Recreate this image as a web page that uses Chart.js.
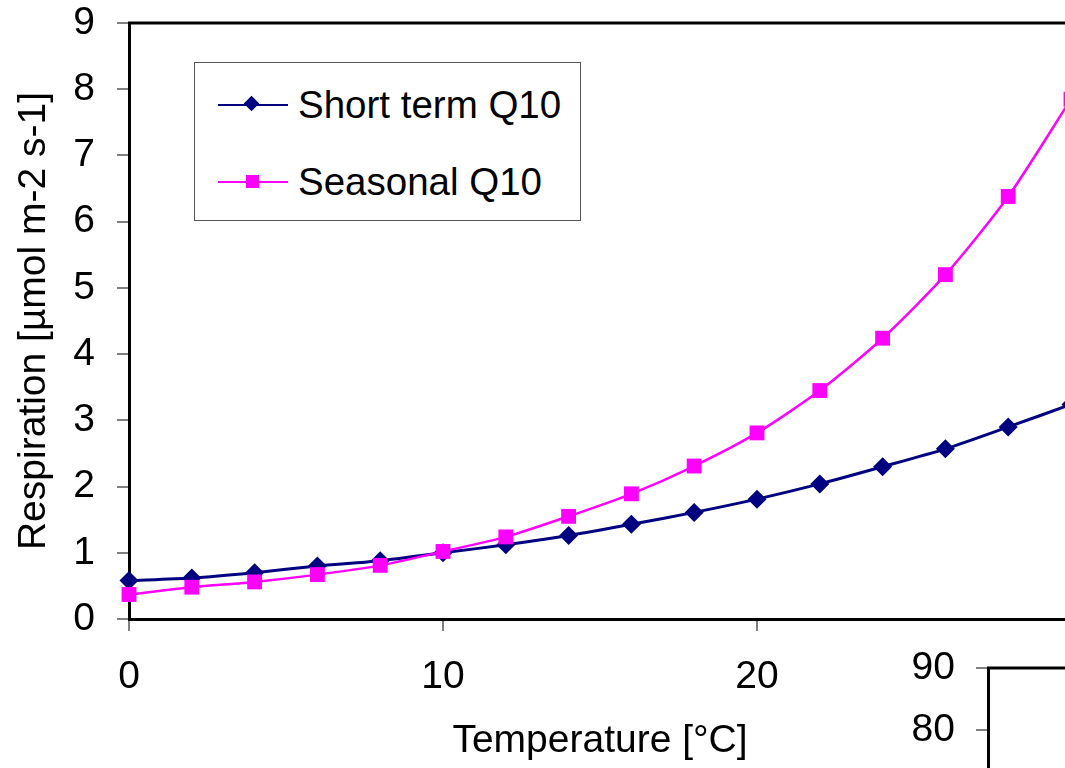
<!DOCTYPE html>
<html>
<head>
<meta charset="utf-8">
<script src="https://cdn.jsdelivr.net/npm/chart.js@4/dist/chart.umd.min.js"></script>
<style>
  body { margin: 0; width: 1065px; height: 768px; overflow: hidden; background: #fff; position: relative; font-family: "Liberation Sans", Arial, sans-serif; }
  #main { position: absolute; left: 0; top: 0; }
  #second { position: absolute; left: 880px; top: 640px; background: #fff; }
  #legend { position: absolute; left: 194px; top: 62px; width: 385px; height: 157px; border: 1px solid #555; background: #fff; }
  .row { position: absolute; left: 0; height: 40px; width: 100%; }
  .row .line { position: absolute; left: 23px; width: 70px; top: 19px; height: 0; border-top: 2px solid; }
  .row .mark { position: absolute; }
  .row .txt { position: absolute; left: 103px; top: 0; font-size: 38.5px; line-height: 40px; color: #000; white-space: nowrap; }
</style>
</head>
<body>
<canvas id="main" width="1100" height="768"></canvas>
<canvas id="second" width="300" height="650"></canvas>
<div id="legend">
  <div class="row" style="top:22px">
    <div class="line" style="border-color:#000080"></div>
    <div class="mark" style="left:51px;top:13px;width:11px;height:11px;background:#000080;transform:rotate(45deg)"></div>
    <div class="txt">Short term Q10</div>
  </div>
  <div class="row" style="top:99px">
    <div class="line" style="border-color:#ff00ff"></div>
    <div class="mark" style="left:51px;top:13px;width:13px;height:13px;background:#ff00ff"></div>
    <div class="txt">Seasonal Q10</div>
  </div>
</div>
<script>
// temperatures in °C
const temps = [0, 2, 4, 6, 8, 10, 12, 14, 16, 18, 20, 22, 24, 26, 28, 30];
const shortTerm = [0.58, 0.62, 0.70, 0.80, 0.88, 1.00, 1.12, 1.26, 1.43, 1.61, 1.81, 2.04, 2.30, 2.57, 2.90, 3.24];
const seasonal = [0.37, 0.48, 0.56, 0.67, 0.81, 1.02, 1.24, 1.55, 1.89, 2.31, 2.81, 3.45, 4.24, 5.20, 6.38, 7.85];
const secondTicks = [0, 10, 20, 30, 40, 50, 60, 70, 80, 90];

const font = { family: '"Liberation Sans", Arial, sans-serif', size: 39 };

// draws the top frame line of the plot area
const topLine = {
  id: 'topLine',
  afterDraw(chart) {
    const a = chart.chartArea, ctx = chart.ctx;
    ctx.save();
    ctx.strokeStyle = '#000';
    ctx.lineWidth = 3;
    ctx.beginPath();
    ctx.moveTo(a.left - 1, a.top);
    ctx.lineTo(a.right + 50, a.top);
    ctx.stroke();
    ctx.restore();
  }
};

// no extra room for labels that stick out past the ends of an axis
function noOverhang(s) {
  s.paddingTop = 0;
  s.paddingBottom = 0;
  s.paddingLeft = 0;
  s.paddingRight = 0;
}

function toPoints(ys) {
  return temps.map((t, i) => ({ x: t, y: ys[i] }));
}

new Chart(document.getElementById('main').getContext('2d'), {
  type: 'line',
  data: {
    datasets: [{
      label: 'Seasonal Q10',
      data: toPoints(seasonal),
      borderColor: '#ff00ff',
      backgroundColor: '#ff00ff',
      borderWidth: 2.5,
      pointStyle: 'rect',
      pointRadius: 10.5,
      pointBorderWidth: 0,
      tension: 0.25,
      clip: false,
      order: 0
    }, {
      label: 'Short term Q10',
      data: toPoints(shortTerm),
      borderColor: '#000080',
      backgroundColor: '#000080',
      borderWidth: 3,
      pointStyle: 'rectRot',
      pointRadius: 9.5,
      pointBorderWidth: 0,
      tension: 0.25,
      clip: false,
      order: 1
    }]
  },
  options: {
    responsive: false,
    animation: false,
    layout: { padding: { top: 23, right: 29, left: 0, bottom: 0 } },
    plugins: { legend: { display: false }, tooltip: { enabled: false } },
    scales: {
      x: {
        type: 'linear',
        min: 0, max: 30,
        ticks: { stepSize: 10, color: '#000', font: font, padding: 23, maxRotation: 0 },
        grid: { drawOnChartArea: false, drawTicks: true, tickLength: 12, color: '#808080', lineWidth: 2 },
        border: { display: true, color: '#000', width: 3 },
        title: { display: true, text: 'Temperature [°C]', color: '#000', font: font, padding: { top: 0, bottom: 3 } },
        afterFit: s => { s.height = 149; noOverhang(s); }
      },
      y: {
        min: 0, max: 9,
        ticks: { stepSize: 1, color: '#000', font: font, padding: 22 },
        grid: { drawOnChartArea: false, drawTicks: true, tickLength: 12, color: '#808080', lineWidth: 2 },
        border: { display: true, color: '#000', width: 3 },
        title: { display: true, text: 'Respiration [µmol m-2 s-1]', color: '#000', font: font, padding: { top: 11, bottom: 0 } },
        afterFit: s => { s.width = 129; noOverhang(s); }
      }
    }
  },
  plugins: [topLine]
});

// the neighbouring chart, only its top-left corner is in view
new Chart(document.getElementById('second').getContext('2d'), {
  type: 'line',
  data: { labels: [], datasets: [] },
  options: {
    responsive: false,
    animation: false,
    layout: { padding: { top: 28, bottom: 64, left: 0, right: 0 } },
    plugins: { legend: { display: false }, tooltip: { enabled: false } },
    scales: {
      x: { display: false },
      y: {
        min: secondTicks[0], max: secondTicks[secondTicks.length - 1],
        ticks: { stepSize: 10, color: '#000', font: font, padding: 21 },
        grid: { drawOnChartArea: false, drawTicks: true, tickLength: 12, color: '#808080', lineWidth: 2 },
        border: { display: true, color: '#000', width: 3 },
        afterFit: s => { s.width = 108; noOverhang(s); }
      }
    }
  },
  plugins: [topLine]
});
</script>
</body>
</html>
